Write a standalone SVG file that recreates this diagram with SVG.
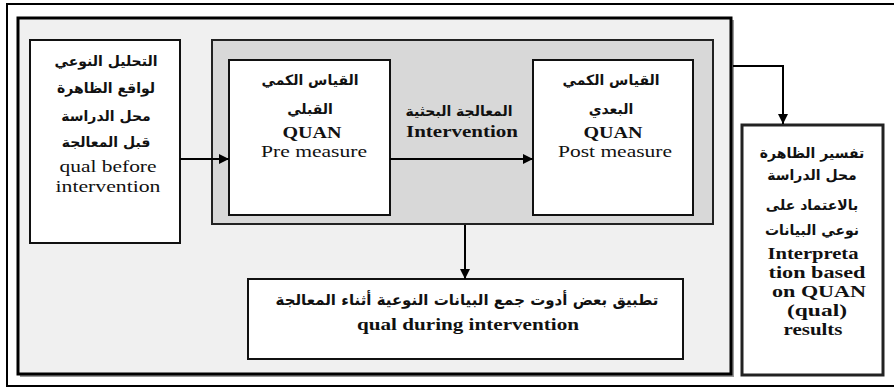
<svg xmlns="http://www.w3.org/2000/svg" width="894" height="387" viewBox="0 0 894 387">
<style>
.box{fill:#fff;stroke:#111;stroke-width:2}
.ar{font-family:"DejaVu Sans",sans-serif;font-weight:bold;font-size:14px;fill:#111;text-anchor:middle}
.en{font-family:"Liberation Serif",serif;font-size:17px;fill:#111;text-anchor:middle}
.b{font-weight:bold}
.conn{fill:none;stroke:#000;stroke-width:2}
</style>
<defs>
<marker id="ah" viewBox="0 0 10 10" refX="10" refY="5" markerWidth="10" markerHeight="10" markerUnits="userSpaceOnUse" orient="auto">
<path d="M0,0 L10,5 L0,10 Z" fill="#000"/>
</marker>
</defs>
<rect width="894" height="387" fill="#fff"/>
<rect x="7" y="4" width="900" height="382" fill="none" stroke="#000" stroke-width="2"/>
<g id="container">
<rect x="20" y="20" width="714" height="357" fill="#999"/>
<rect x="18" y="18" width="713" height="356" fill="#f0f0f0" stroke="#000" stroke-width="3"/>
</g>
<g id="intervention-group">
<rect x="212" y="40" width="501" height="184" fill="#d8d8d8" stroke="#222" stroke-width="2"/>
<text class="ar" x="459" y="116">المعالجة البحثية</text>
<text class="en b" x="462" y="137" textLength="112" lengthAdjust="spacingAndGlyphs">Intervention</text>
</g>
<g id="qual-before">
<rect class="box" x="30" y="40" width="150" height="203"/>
<text class="ar" x="106" y="66">التحليل النوعي</text>
<text class="ar" x="106" y="93">لواقع الظاهرة</text>
<text class="ar" x="106" y="121">محل الدراسة</text>
<text class="ar" x="106" y="147">قبل المعالجة</text>
<text class="en" x="108" y="172" textLength="97" lengthAdjust="spacingAndGlyphs">qual before</text>
<text class="en" x="108" y="192" textLength="105" lengthAdjust="spacingAndGlyphs">intervention</text>
</g>
<g id="pre-measure">
<rect class="box" x="229" y="60" width="161" height="155"/>
<text class="ar" x="310" y="85">القياس الكمي</text>
<text class="ar" x="310" y="114">القبلي</text>
<text class="en b" x="312" y="138" textLength="59" lengthAdjust="spacingAndGlyphs">QUAN</text>
<text class="en" x="314" y="157" textLength="106" lengthAdjust="spacingAndGlyphs">Pre measure</text>
</g>
<g id="post-measure">
<rect class="box" x="533" y="60" width="160" height="155"/>
<text class="ar" x="611" y="85">القياس الكمي</text>
<text class="ar" x="611" y="114">البعدي</text>
<text class="en b" x="613" y="138" textLength="59" lengthAdjust="spacingAndGlyphs">QUAN</text>
<text class="en" x="615" y="157" textLength="114" lengthAdjust="spacingAndGlyphs">Post measure</text>
</g>
<g id="qual-during">
<rect class="box" x="248" y="279" width="435" height="80"/>
<text class="ar" x="467" y="305" style="font-size:15px">تطبيق بعض أدوت جمع البيانات النوعية أثناء المعالجة</text>
<text class="en b" x="468" y="330" textLength="222" lengthAdjust="spacingAndGlyphs">qual during intervention</text>
</g>
<g id="interpretation">
<rect x="742" y="125" width="141" height="250" fill="#fff" stroke="#222" stroke-width="3"/>
<text class="ar" x="812" y="158">تفسير الظاهرة</text>
<text class="ar" x="812" y="180">محل الدراسة</text>
<text class="ar" x="812" y="210">بالاعتماد على</text>
<text class="ar" x="812" y="235">نوعي البيانات</text>
<text class="en b" x="813" y="259" textLength="91" lengthAdjust="spacingAndGlyphs">Interpreta</text>
<text class="en b" x="817" y="278" textLength="97" lengthAdjust="spacingAndGlyphs">tion based</text>
<text class="en b" x="819" y="297" textLength="94" lengthAdjust="spacingAndGlyphs">on QUAN</text>
<text class="en b" x="817" y="316" textLength="60" lengthAdjust="spacingAndGlyphs">(qual)</text>
<text class="en b" x="813" y="335" textLength="59" lengthAdjust="spacingAndGlyphs">results</text>
</g>
<g id="connectors">
<line class="conn" x1="180" y1="159" x2="229" y2="159" marker-end="url(#ah)"/>
<line class="conn" x1="390" y1="159" x2="533" y2="159" marker-end="url(#ah)"/>
<line class="conn" x1="465" y1="225" x2="465" y2="279" marker-end="url(#ah)"/>
<polyline class="conn" points="733,66 783,66 783,124" stroke-width="3" marker-end="url(#ah)"/>
</g>
</svg>
